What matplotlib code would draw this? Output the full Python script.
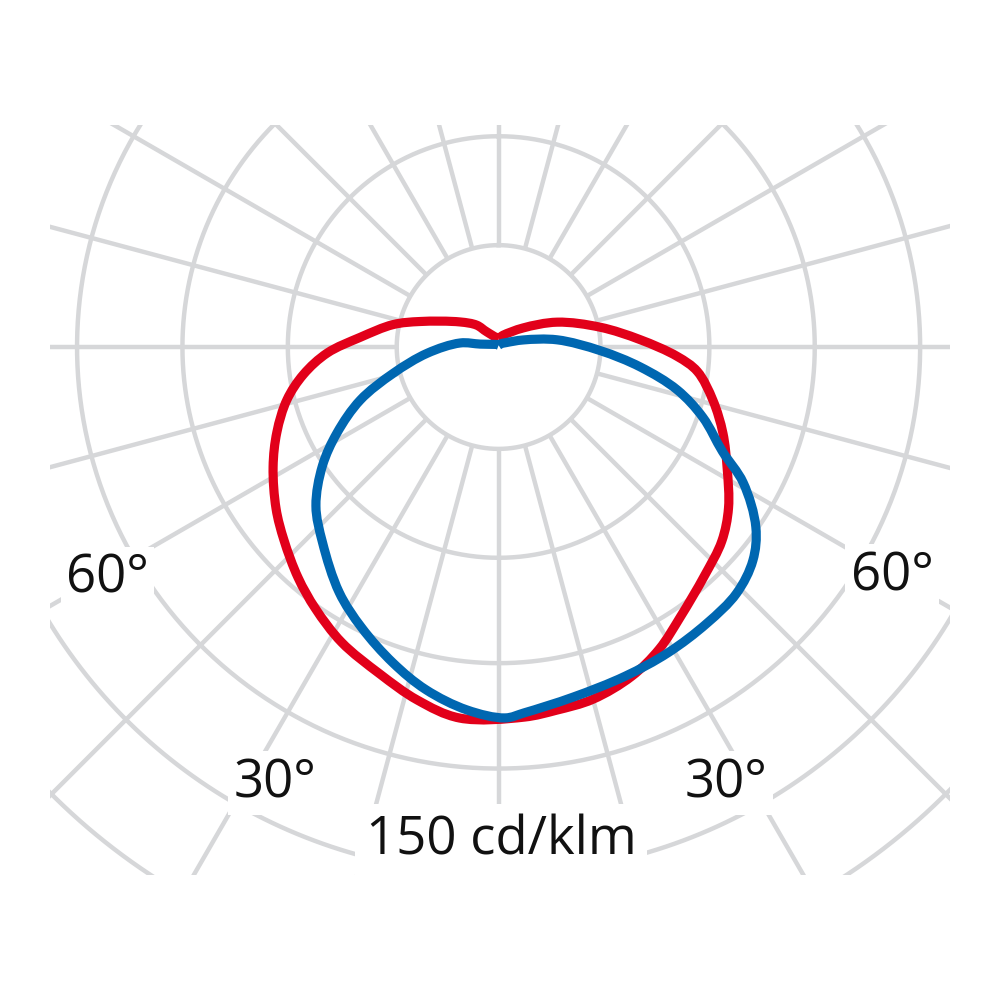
import numpy as np
import matplotlib
matplotlib.use("Agg")
import matplotlib.pyplot as plt
from matplotlib.path import Path
from matplotlib.patches import PathPatch

# light distribution curve, values in cd/klm
# angle 0 = straight down, positive = to the right, +-180 = straight up
red_ang = [-180, -142, -135, -123, -108, -102, -94, -88, -82, -76, -69, -62, -54,
           -48, -41, -35, -28, -20, -13, -6, 4, 9, 15, 22, 28, 34, 42, 49, 55, 62,
           69, 76, 83, 87, 93, 101, 113, 128, 159, 180]
red_cd = [2.6, 5.5, 8.8, 13.1, 23.5, 30.7, 39.5, 48.8, 56.1, 62.1, 67.6, 72.7, 78.3,
          82.2, 87.0, 90.9, 95.2, 99.0, 103.1, 106.2, 105.6, 104.7, 103.8, 101.1, 97.4,
          92.6, 87.6, 84.2, 79.9, 73.7, 68.4, 62.9, 57.0, 50.9, 40.3, 29.5, 18.1, 8.8,
          3.6, 2.6]

blue_ang = [-180, -150, -120, -99, -96, -85, -76, -69, -62, -56, -49, -42, -33, -26,
            -18.5, -12, -5, 1, 4, 12, 21, 29, 37, 44, 50, 55, 61, 65, 71, 76.5,
            82, 88, 97, 106, 120, 150, 180]
blue_cd = [0.5, 0.8, 1.5, 5.3, 11.0, 20.4, 30.9, 42.2, 52.1, 60.5, 68.9, 74.9, 83.3,
           88.9, 94.8, 99.7, 103.7, 105.6, 104.4, 101.9, 100.4, 99.5, 98.5, 97.5, 94.5,
           89.4, 79.6, 70.3, 61.5, 52.3, 40.7, 28.9, 16.8, 7.3, 2.5, 1.0, 0.5]

grid_r = [29, 60, 90, 120, 150, 180]
grid_ang = np.arange(0, 360, 15)

angle_labels = ["60°", "60°", "30°", "30°"]
scale_label = "150 cd/klm"

GRID = "#d6d7d9"
RED = "#e2001a"
BLUE = "#0067b1"


def to_xy(ang, r):
    t = np.radians(np.asarray(ang, dtype=float))
    r = np.asarray(r, dtype=float)
    return r * np.sin(t), -r * np.cos(t)


def closed_curve(x, y, alpha=0.5):
    # centripetal catmull-rom through the points, as bezier segments
    # (last point repeats the first one)
    p = np.column_stack([x, y])[:-1]
    n = len(p)
    verts = [p[0]]
    codes = [Path.MOVETO]
    for i in range(n):
        p0, p1, p2, p3 = p[i - 1], p[i], p[(i + 1) % n], p[(i + 2) % n]
        d0 = max(np.linalg.norm(p1 - p0), 1e-6) ** alpha
        d1 = max(np.linalg.norm(p2 - p1), 1e-6) ** alpha
        d2 = max(np.linalg.norm(p3 - p2), 1e-6) ** alpha
        c1 = (d0**2 * p2 - d1**2 * p0 + (2 * d0**2 + 3 * d0 * d1 + d1**2) * p1) / (3 * d0 * (d0 + d1))
        c2 = (d2**2 * p1 - d1**2 * p3 + (2 * d2**2 + 3 * d2 * d1 + d1**2) * p2) / (3 * d2 * (d2 + d1))
        verts += [c1, c2, p2]
        codes += [Path.CURVE4] * 3
    return Path(verts, codes)


fig = plt.figure(figsize=(10, 10), dpi=100)
ax = fig.add_axes([0.05, 0.125, 0.9, 0.75])
ax.set_xlim(-127.7, 128.5)
ax.set_ylim(-150.3, 63.2)
ax.axis("off")

# polar grid, clipped by the axes rectangle
t = np.linspace(-180, 180, 721)
for r in grid_r:
    x, y = to_xy(t, np.full_like(t, r))
    ax.plot(x, y, color=GRID, lw=3.2, zorder=1)
for a in grid_ang:
    x, y = to_xy([a, a], [grid_r[0], 250])
    ax.plot(x, y, color=GRID, lw=3.2, solid_capstyle="butt", zorder=1)

x, y = to_xy(red_ang, red_cd)
ax.add_patch(PathPatch(closed_curve(x, y), fill=False, ec=RED, lw=6.6,
                       joinstyle="round", zorder=2))
x, y = to_xy(blue_ang, blue_cd)
ax.add_patch(PathPatch(closed_curve(x, y), fill=False, ec=BLUE, lw=6.6,
                       joinstyle="round", zorder=3))

box = dict(boxstyle="square,pad=0.1", fc="white", ec="none")
txt = dict(fontsize=38, family=["Open Sans", "DejaVu Sans"], color="#111111",
           ha="center", va="baseline", bbox=box, zorder=5)
ax.text(-111.3, -70.0, angle_labels[0], **txt)
ax.text(112.0, -69.2, angle_labels[1], **txt)
ax.text(-63.6, -128.1, angle_labels[2], **txt)
ax.text(64.8, -128.1, angle_labels[3], **txt)
ax.text(0.7, -144.6, scale_label, **dict(txt, bbox=dict(box, boxstyle="square,pad=0.2")))

fig.savefig("out.png", dpi=100, facecolor="white")
